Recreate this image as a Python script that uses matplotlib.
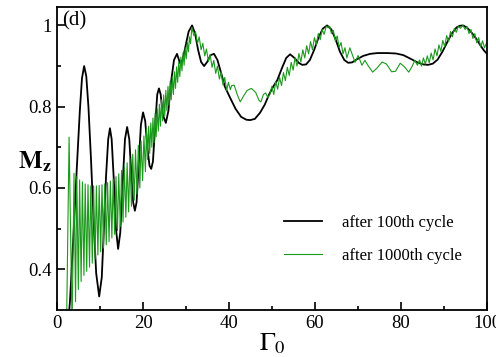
import matplotlib
matplotlib.use('Agg')
import matplotlib.pyplot as plt
from matplotlib.ticker import MultipleLocator, FixedLocator, FixedFormatter

plt.rcParams['font.family'] = 'serif'
plt.rcParams['font.serif'] = ['Liberation Serif']
plt.rcParams['mathtext.fontset'] = 'stix'

# black curve: after 100th cycle (Gamma0, Mz)
black_x = [2.2, 3.0, 3.8, 4.6, 5.3, 5.8, 6.3, 6.8, 7.3, 7.9, 8.5, 9.1, 9.8, 10.4, 10.9,
           11.4, 11.9, 12.3, 12.7, 13.2, 13.7, 14.2, 14.7, 15.2, 15.8, 16.3, 16.8, 17.3,
           17.7, 18.1, 18.5, 19.0, 19.5, 20.0, 20.5, 21.0, 21.5, 21.9, 22.3, 22.8, 23.3,
           23.7, 24.1, 24.6, 25.3, 25.9, 26.5, 27.2, 27.9, 28.6, 29.2, 29.9, 30.6, 31.4,
           32.1, 32.8, 33.5, 34.2, 34.9, 35.7, 36.5, 37.3, 38.1, 39.0, 40.2, 41.5, 42.8,
           44.0, 44.9, 46.0, 47.2, 48.3, 49.3, 50.3, 51.2, 52.3, 53.3, 54.2, 55.2, 56.2,
           57.0, 57.9, 58.8, 59.8, 60.8, 61.8, 62.8, 63.8, 64.8, 65.8, 66.8, 67.7, 68.6,
           69.8, 71.2, 72.8, 74.5, 76.7, 78.8, 80.5, 82.2, 84.0, 85.2, 86.3, 87.4, 88.5,
           89.6, 90.7, 91.8, 92.9, 93.6, 94.4, 95.3, 96.2, 97.3, 98.5, 99.3, 100.0]
black_y = [0.22, 0.32, 0.48, 0.65, 0.79, 0.87, 0.90, 0.875, 0.80, 0.67, 0.52, 0.39, 0.333, 0.38, 0.50,
           0.63, 0.72, 0.747, 0.72, 0.62, 0.50, 0.45, 0.49, 0.60, 0.72, 0.75, 0.72, 0.63,
           0.565, 0.544, 0.565, 0.66, 0.755, 0.786, 0.765, 0.70, 0.655, 0.647, 0.665, 0.75, 0.83,
           0.845, 0.83, 0.78, 0.76, 0.79, 0.86, 0.915, 0.93, 0.907, 0.915, 0.95, 0.985, 1.0,
           0.98, 0.94, 0.91, 0.90, 0.91, 0.927, 0.93, 0.915, 0.885, 0.85, 0.823, 0.795, 0.775,
           0.768, 0.767, 0.77, 0.785, 0.805, 0.83, 0.85, 0.865, 0.895, 0.92, 0.929, 0.92, 0.908,
           0.903, 0.904, 0.915, 0.94, 0.97, 0.992, 1.0, 0.99, 0.965, 0.935, 0.915, 0.908, 0.909,
           0.917, 0.925, 0.93, 0.932, 0.932, 0.931, 0.927, 0.918, 0.908, 0.904, 0.903, 0.906, 0.916,
           0.935, 0.958, 0.98, 0.995, 0.999, 1.0, 0.995, 0.985, 0.97, 0.95, 0.938, 0.93]

# green curve: after 1000th cycle, zigzag vertices
green_low = [(2.2, 0.25), (2.8, 0.725), (3.5, 0.26), (3.95, 0.636), (4.3, 0.32), (4.6, 0.628),
             (4.95, 0.35), (5.25, 0.62), (5.6, 0.37), (5.9, 0.615), (6.25, 0.385), (6.55, 0.61),
             (6.9, 0.395), (7.2, 0.608), (7.55, 0.405), (7.85, 0.605), (8.2, 0.415), (8.5, 0.605),
             (8.85, 0.425), (9.15, 0.605), (9.5, 0.435), (9.8, 0.606), (10.15, 0.443), (10.45, 0.608),
             (10.8, 0.452), (11.1, 0.61), (11.45, 0.46), (11.75, 0.613), (12.1, 0.468), (12.4, 0.617),
             (12.75, 0.477), (13.05, 0.622), (13.4, 0.486), (13.7, 0.628), (14.05, 0.495), (14.35, 0.635),
             (14.7, 0.505), (15.0, 0.643), (15.35, 0.516), (15.65, 0.652), (16.0, 0.528), (16.3, 0.662),
             (16.65, 0.541), (16.95, 0.672), (17.3, 0.555), (17.6, 0.683), (17.95, 0.57), (18.25, 0.694),
             (18.6, 0.585), (18.9, 0.705), (19.25, 0.60), (19.55, 0.716), (19.9, 0.618), (20.2, 0.728),
             (20.55, 0.64)]
green_band = [(20.8, 0.745), (21.05, 0.67), (21.3, 0.752), (21.55, 0.685), (21.8, 0.76), (22.05, 0.70),
              (22.3, 0.772), (22.55, 0.712), (22.8, 0.784), (23.05, 0.726), (23.3, 0.795), (23.55, 0.74),
              (23.8, 0.806), (24.05, 0.752), (24.3, 0.817), (24.55, 0.765), (24.8, 0.829), (25.05, 0.778),
              (25.3, 0.84), (25.55, 0.79), (25.8, 0.85), (26.05, 0.803), (26.3, 0.862), (26.55, 0.817),
              (26.8, 0.874), (27.05, 0.83), (27.3, 0.886), (27.55, 0.845), (27.8, 0.898), (28.05, 0.86),
              (28.3, 0.91), (28.55, 0.874), (28.8, 0.922), (29.05, 0.888), (29.3, 0.933), (29.55, 0.902),
              (29.8, 0.945), (30.05, 0.918), (30.3, 0.958), (30.55, 0.935), (30.8, 0.972), (31.05, 0.955),
              (31.35, 0.995)]
green_desc = [(31.8, 0.975), (32.2, 0.985), (32.65, 0.955), (33.05, 0.972), (33.5, 0.94), (33.9, 0.956),
              (34.35, 0.925), (34.75, 0.942), (35.2, 0.911), (35.6, 0.928), (36.05, 0.897), (36.45, 0.914),
              (36.9, 0.882), (37.3, 0.9), (37.75, 0.868), (38.15, 0.886), (38.6, 0.853), (39.0, 0.872),
              (39.45, 0.84), (39.85, 0.86), (40.3, 0.842)]
green_mid = [(40.6, 0.852), (41.2, 0.853), (41.9, 0.83), (42.6, 0.812), (43.3, 0.825), (44.2, 0.84),
             (45.2, 0.845), (46.2, 0.835), (47.0, 0.815), (47.4, 0.812), (48.0, 0.83), (48.5, 0.834),
             (49.0, 0.823), (49.5, 0.83)]
green_rise = [(49.95, 0.85), (50.4, 0.83), (50.85, 0.862), (51.3, 0.843), (51.75, 0.872), (52.2, 0.852),
              (52.65, 0.884), (53.1, 0.864), (53.55, 0.897), (54.0, 0.877), (54.45, 0.909), (54.9, 0.89),
              (55.35, 0.921), (55.8, 0.9), (56.25, 0.931), (56.7, 0.91), (57.15, 0.94), (57.6, 0.92),
              (58.05, 0.95), (58.5, 0.93), (58.95, 0.96), (59.4, 0.94), (59.85, 0.97), (60.3, 0.952),
              (60.75, 0.98), (61.2, 0.965), (61.65, 0.99), (62.1, 0.978), (62.6, 0.998), (63.0, 0.995)]
green_fall = [(63.4, 0.998), (63.8, 0.98), (64.25, 0.988), (64.7, 0.962), (65.15, 0.974), (65.6, 0.946),
              (66.05, 0.958), (66.5, 0.93), (66.95, 0.945), (67.4, 0.92), (68.1, 0.945), (69.3, 0.909),
              (70.0, 0.926), (70.9, 0.902), (71.6, 0.914)]
green_slow = [(72.4, 0.9), (73.4, 0.885), (74.4, 0.895), (75.6, 0.91), (76.6, 0.905), (77.8, 0.886),
              (78.7, 0.887), (79.8, 0.907), (80.8, 0.898), (81.8, 0.885), (82.6, 0.9), (83.2, 0.914),
              (83.8, 0.902)]
green_end = [(84.3, 0.915), (84.75, 0.9), (85.2, 0.92), (85.65, 0.905), (86.1, 0.925), (86.55, 0.908),
             (87.0, 0.932), (87.45, 0.915), (87.9, 0.942), (88.35, 0.925), (88.8, 0.952), (89.25, 0.936),
             (89.7, 0.963), (90.15, 0.948), (90.6, 0.975), (91.05, 0.96), (91.5, 0.985), (91.95, 0.972),
             (92.4, 0.993), (92.85, 0.983), (93.3, 0.998), (93.8, 0.993), (94.4, 1.0), (94.9, 0.99),
             (95.35, 0.997), (95.8, 0.98), (96.25, 0.99), (96.7, 0.968), (97.15, 0.98), (97.6, 0.957),
             (98.05, 0.97), (98.5, 0.947), (98.95, 0.962), (99.4, 0.945), (100.0, 0.96)]

green = green_low + green_band + green_desc + green_mid + green_rise + green_fall + green_slow + green_end
green_x = [p[0] for p in green]
green_y = [p[1] for p in green]

fig = plt.figure(figsize=(4.96, 3.57), dpi=100)
ax = fig.add_axes([0.115, 0.132, 0.867, 0.848])

ax.plot(black_x, black_y, color='black', lw=1.3, label='after 100th cycle')
ax.plot(green_x, green_y, color='#1c9a1c', lw=0.8, label='after 1000th cycle')

ax.set_xlim(0, 100)
ax.set_ylim(0.3, 1.045)

ax.xaxis.set_major_locator(MultipleLocator(20))
ax.xaxis.set_minor_locator(MultipleLocator(10))
ax.yaxis.set_major_locator(FixedLocator([0.4, 0.6, 0.8, 1.0]))
ax.yaxis.set_major_formatter(FixedFormatter(['0.4', '0.6', '0.8', '1']))
ax.yaxis.set_minor_locator(FixedLocator([0.5, 0.7, 0.9]))

ax.tick_params(which='both', direction='in', top=False, right=False, labelsize=13.5, width=1.2)
ax.tick_params(which='major', length=6, pad=4)
ax.tick_params(which='minor', length=3)
for s in ax.spines.values():
    s.set_linewidth(1.3)

ax.set_xlabel(r'$\Gamma_0$', fontsize=19, labelpad=-1)
ax.text(-0.052, 0.49, r'$\mathbf{M_z}$', transform=ax.transAxes, fontsize=18,
        ha='center', va='center')
ax.text(0.012, 0.985, '(d)', transform=ax.transAxes, fontsize=15, ha='left', va='top')

ax.legend(loc='center left', bbox_to_anchor=(0.528, 0.233), frameon=False, fontsize=12,
          handlelength=2.3, handletextpad=1.2, labelspacing=1.0, borderpad=0, borderaxespad=0)

fig.savefig('out.png', dpi=100)
